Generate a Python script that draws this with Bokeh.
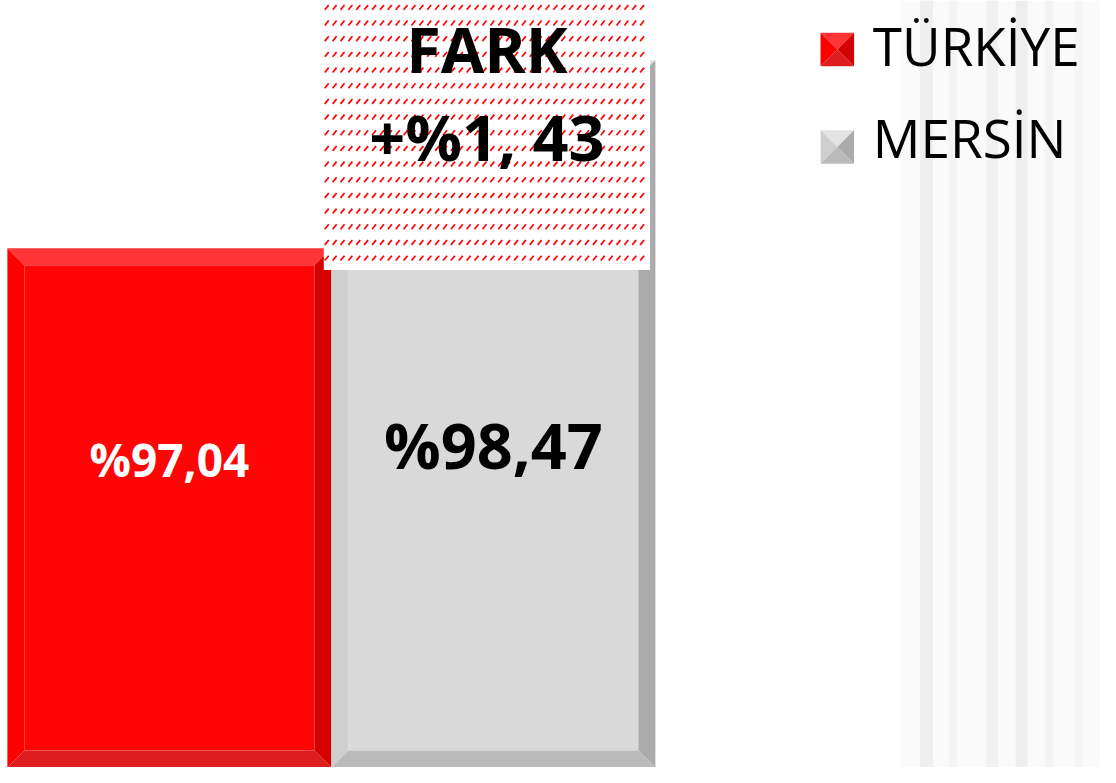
from bokeh.plotting import figure
from bokeh.models import Range1d
from bokeh.embed import file_html
from bokeh.resources import INLINE
from bokeh.core.properties import value

# ---- data ----
categories = ["TÜRKİYE", "MERSİN"]
values = [97.04, 98.47]
diff_title = "FARK"

# ---- styles ----
face_main = ["#ff0505", "#dad9da"]
face_top = ["#ff3535", "#e3e3e3"]
face_left = ["#ff0000", "#cfcfcf"]
face_right = ["#d40000", "#ababab"]
face_bottom = ["#de1e1e", "#bababa"]
label_colors = ["white", "black"]

W, H = 1100, 767
SX, SY = W / 1116, H / 783          # layout scale (reference px -> figure px)
BAR_PX = 324
X0 = -0.5 - 7 * SX / BAR_PX
X1 = X0 + W / BAR_PX
PX_PER_UNIT = (253 - 61) * SY / 1.43
Y1 = 98.47 + 61 * SY / PX_PER_UNIT
Y0 = Y1 - H / PX_PER_UNIT
BEVEL = 17  # px
SHIFT = 0.41  # svg text baseline compensation (em)


def fx(rx):
    return rx * SX


def fy(ry):
    return H - ry * SY


p = figure(width=W, height=H, x_range=Range1d(X0, X1), y_range=Range1d(Y0, Y1),
           output_backend="svg", toolbar_location=None, min_border=0,
           x_axis_location=None, y_axis_location=None)
p.grid.visible = False
p.outline_line_color = None
p.background_fill_color = "white"
p.border_fill_color = "white"
p.extra_x_ranges = {"px": Range1d(0, W)}
p.extra_y_ranges = {"py": Range1d(0, H)}

# background curtain stripes (decorative)
stripe_l = [913, 933, 962, 1000, 1030, 1060, 1090]
stripe_r = [1116, 946, 970, 1012, 1042, 1068, 1098]
stripe_c = ["#fafafa", "#efefef", "#f4f4f4", "#f1f1f1", "#eeeeee", "#f3f3f3", "#f5f5f5"]
p.quad(left=[fx(v) for v in stripe_l], right=[fx(v) for v in stripe_r], bottom=0, top=H,
       fill_color=stripe_c, line_color=None, x_range_name="px", y_range_name="py")

dx = BEVEL * (X1 - X0) / W
dy = BEVEL * (Y1 - Y0) / H

for i, v in enumerate(values):
    L, R, B, T = i - 0.5, i + 0.5, Y0, v
    p.quad(left=L + dx, right=R - dx, bottom=B + dy, top=T - dy,
           fill_color=face_main[i], line_color=None)
    xs = [[L, R, R - dx, L + dx],
          [L, L + dx, L + dx, L],
          [R, R - dx, R - dx, R],
          [L, L + dx, R - dx, R]]
    ys = [[T, T, T - dy, T - dy],
          [T, T - dy, B + dy, B],
          [T, T - dy, B + dy, B],
          [B, B + dy, B + dy, B]]
    p.patches(xs=xs, ys=ys,
              fill_color=[face_top[i], face_left[i], face_right[i], face_bottom[i]],
              line_color=None)

# value labels
label_base = [487, 480]       # reference baseline (px from top)
label_size = [46, 63]
for i, v in enumerate(values):
    p.text(x=[i], y=[fy(label_base[i]) + SHIFT * label_size[i]],
           text=["%" + f"{v:.2f}".replace(".", ",")],
           text_color=label_colors[i], text_font=value("Open Sans"),
           text_font_style="bold", text_font_size=f"{label_size[i]}px",
           text_align="center", text_baseline="alphabetic", y_range_name="py")

# difference box with dashed-diagonal pattern
box_l, box_r, box_b = 328, 659, 275
p.quad(left=fx(box_l), right=fx(box_r), bottom=fy(box_b), top=H + 5, fill_color="white",
       line_color=None, x_range_name="px", y_range_name="py")
hx, hy = [], []
ry = 7
while ry < box_b:
    rx = box_l + 1
    while rx + 4 <= box_r:
        hx.append([fx(rx), fx(rx + 4)])
        hy.append([fy(ry + 2.5), fy(ry - 2.5)])
        rx += 8
    ry += 16
p.multi_line(xs=hx, ys=hy, line_color="#ff0000", line_width=1.7,
             x_range_name="px", y_range_name="py")

diff = values[1] - values[0]
diff_text = "+%" + f"{diff:.2f}".replace(".", ", ")
big = 63
p.text(x=[fx(493.5)] * 2, y=[fy(75) + SHIFT * big, fy(165) + SHIFT * big],
       text=[diff_title, diff_text],
       text_color="black", text_font=value("Open Sans"), text_font_style="bold",
       text_font_size=f"{big}px", text_align="center", text_baseline="alphabetic",
       x_range_name="px", y_range_name="py")

# legend (pyramid squares)
leg_cx = fx(849)
leg_cy = [fy(50), fy(149.5)]
leg_base = [68, 162]
hs = 17 * SX
leg_size = 53
for i, name in enumerate(categories):
    cx, cy = leg_cx, leg_cy[i]
    l, r, b, t = cx - hs, cx + hs, cy - hs, cy + hs
    p.patches(xs=[[l, r, cx], [l, cx, l], [r, cx, r], [l, cx, r]],
              ys=[[t, t, cy], [t, cy, b], [t, cy, b], [b, cy, b]],
              fill_color=[face_top[i], face_left[i], face_right[i], face_bottom[i]],
              line_color=None, x_range_name="px", y_range_name="py")
    p.text(x=[fx(885)], y=[fy(leg_base[i]) + SHIFT * leg_size], text=[name],
           text_color="black", text_font=value("Open Sans"),
           text_font_size=f"{leg_size}px",
           text_align="left", text_baseline="alphabetic",
           x_range_name="px", y_range_name="py")

open("out.html", "w").write(file_html(p, INLINE))
